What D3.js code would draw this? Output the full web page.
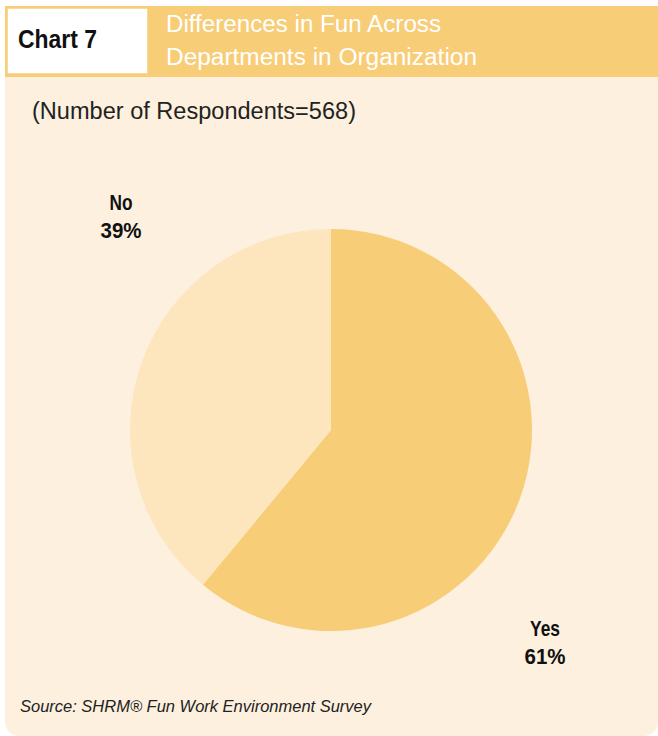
<!DOCTYPE html>
<html><head><meta charset="utf-8">
<script src="https://cdn.jsdelivr.net/npm/d3@7"></script>
<style>body{margin:0;background:#fff;}svg{display:block;}</style>
</head><body>
<svg id="chart" width="658" height="736"></svg>
<script>
const categories = ["Yes", "No"];
const values = [61, 39];
const labels = ["61%", "39%"];
const colors = ["#f8cd78", "#fde6bd"];
const chartNumber = "Chart 7";
const titleLines = ["Differences in Fun Across", "Departments in Organization"];
const subtitle = "(Number of Respondents=568)";
const source = "Source: SHRM\u00AE Fun Work Environment Survey";

// layout (label anchor positions for the annotations)
const labelPos = [[545, 636], [121, 210]];
const labelWidths = [[30, 41], [23, 41]];

const svg = d3.select("#chart");
const sans = "'Liberation Sans',Arial,sans-serif";

// panel with rounded bottom corners
const px = 5, py = 77, pw = 653, ph = 659, r = 16;
svg.append("path")
  .attr("d", `M${px},${py} H${px+pw} V${py+ph-r} Q${px+pw},${py+ph} ${px+pw-r},${py+ph} H${px+r} Q${px},${py+ph} ${px},${py+ph-r} Z`)
  .attr("fill", "#fdf0de");

// header band
svg.append("rect").attr("x", 5).attr("y", 6).attr("width", 653).attr("height", 71).attr("fill", "#f8cd78");
svg.append("rect").attr("x", 6.5).attr("y", 7.5).attr("width", 142).attr("height", 67)
  .attr("fill", "#fff").attr("stroke", "#f8cd78").attr("stroke-width", 2.5);
svg.append("text").attr("x", 18).attr("y", 48).text(chartNumber)
  .attr("font-family", sans).attr("font-weight", "bold").attr("font-size", 26).attr("fill", "#111")
  .attr("textLength", 79).attr("lengthAdjust", "spacingAndGlyphs");
const titleW = [275, 311];
svg.selectAll("text.title").data(titleLines).join("text").attr("class", "title")
  .attr("x", 166).attr("y", (d, i) => 32 + i * 33).text(d => d)
  .attr("font-family", sans).attr("font-size", 23.5).attr("fill", "#fff")
  .attr("textLength", (d, i) => titleW[i]).attr("lengthAdjust", "spacingAndGlyphs");

svg.append("text").attr("x", 32).attr("y", 119).text(subtitle)
  .attr("font-family", sans).attr("font-size", 23).attr("fill", "#222")
  .attr("textLength", 324).attr("lengthAdjust", "spacingAndGlyphs");

// pie
const cx = 331, cy = 430, R = 201;
const pie = d3.pie().sort(null).value(d => d)(values);
const arc = d3.arc().innerRadius(0).outerRadius(R);
const g = svg.append("g").attr("transform", `translate(${cx},${cy})`);
g.selectAll("path").data(pie).join("path").attr("d", arc).attr("fill", (d, i) => colors[i]);

// labels
const lg = svg.selectAll("g.lab").data(pie).join("g").attr("class", "lab")
  .attr("transform", (d, i) => `translate(${labelPos[i][0]},${labelPos[i][1]})`);
lg.append("text").attr("text-anchor", "middle").attr("y", 0).text((d, i) => categories[i])
  .attr("font-family", sans).attr("font-weight", "bold").attr("font-size", 22).attr("fill", "#111")
  .attr("textLength", (d, i) => labelWidths[i][0]).attr("lengthAdjust", "spacingAndGlyphs");
lg.append("text").attr("text-anchor", "middle").attr("y", 28).text((d, i) => labels[i])
  .attr("font-family", sans).attr("font-weight", "bold").attr("font-size", 22).attr("fill", "#111")
  .attr("textLength", (d, i) => labelWidths[i][1]).attr("lengthAdjust", "spacingAndGlyphs");

svg.append("text").attr("x", 20).attr("y", 712).text(source)
  .attr("font-family", sans).attr("font-style", "italic").attr("font-size", 16).attr("fill", "#222")
  .attr("textLength", 351).attr("lengthAdjust", "spacingAndGlyphs");
</script>
</body></html>
